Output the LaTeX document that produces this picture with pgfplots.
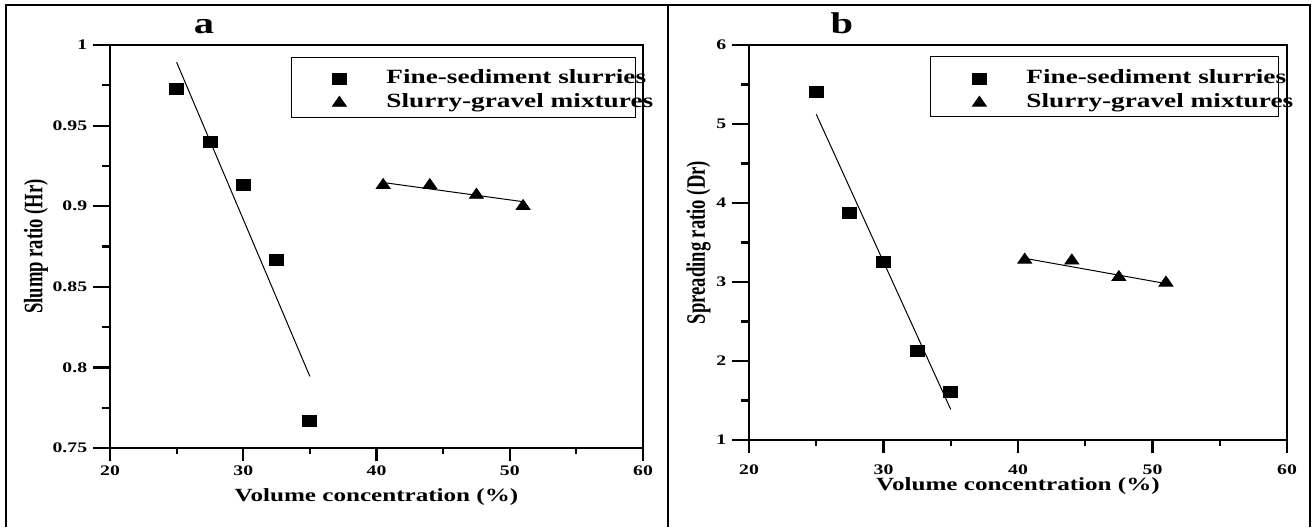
\documentclass[border=0pt]{standalone}
\usepackage{fontspec}
\setmainfont{Liberation Serif}[FakeStretch=1.35]
\newfontfamily\ylfont{Liberation Serif}[FakeStretch=0.7]
\usepackage{pgfplots}
\pgfplotsset{compat=1.18}

\pgfplotsset{
  panel/.style={
    scale only axis,
    xmin=20, xmax=60,
    xtick={20,30,40,50,60},
    minor x tick num=1,
    minor y tick num=1,
    tick pos=left,
    tick align=outside,
    major tick length=6.4pt,
    minor tick length=3.2pt,
    ytick style={/pgfplots/major tick length=8.5pt, /pgfplots/minor tick length=4.2pt},
    axis line style={line width=1.3pt},
    tick style={black, line width=1.1pt},
    tick label style={font=\bfseries\fontsize{7.3}{8}\selectfont},
    /pgf/number format/assume math mode=true,
    xlabel style={font=\bfseries\fontsize{9.3}{11}\selectfont, anchor=center},
    ylabel style={font=\ylfont\bfseries\fontsize{13.3}{14}\selectfont, anchor=center},
    legend cell align=left,
    legend style={draw=none, fill=none, inner sep=0pt, row sep=3pt, column sep=0pt,
      anchor=north west, font=\bfseries\fontsize{10.1}{11}\selectfont,
      nodes={inner sep=0pt, text height=7pt, text depth=2pt}},
    legend image code/.code={\path[draw=none] (0pt,0pt) -- (23.5pt,0pt); \draw[##1] plot coordinates {(0pt,0pt)};},
  },
  sq/.style={only marks, mark=square*, black, mark size=2.75pt, mark options={xscale=1.27}},
  tri/.style={only marks, mark=triangle*, black, mark size=3.33pt, mark options={xscale=1.21}},
  fit/.style={black, line width=0.5pt, forget plot},
}

\begin{document}
\begin{tikzpicture}
\path[use as bounding box] (0,0) rectangle (656pt,263.5pt);
\draw[line width=0.85pt] (3pt,0pt) -- (3pt,261pt) -- (655pt,261pt) -- (655pt,0pt);
\draw[line width=0.85pt] (334pt,0pt) -- (334pt,261pt);

\node[anchor=base, font=\bfseries\fontsize{15}{16}\selectfont] at (102pt,246.75pt) {a};
\node[anchor=base, font=\bfseries\fontsize{15}{16}\selectfont] at (421pt,246.75pt) {b};

% panel a
\begin{axis}[panel,
  at={(55pt,39.5pt)}, anchor=south west,
  width=266.5pt, height=201.5pt,
  ymin=0.75, ymax=1,
  ytick={0.75,0.8,0.85,0.9,0.95,1},
  xticklabel shift=-1pt,
  yticklabel shift=1.5pt,
  xlabel={Volume concentration (\%)},
  ylabel={Slump ratio (Hr)},
  xlabel style={at={(axis description cs:0.5,-0.1216)}},
  ylabel style={at={(axis description cs:-0.1388,0.5)}},
  legend style={at={(rel axis cs:0.4165,0.939)}},
]
\addplot[sq] coordinates {(25,0.973) (27.5,0.940) (30,0.913) (32.5,0.867) (35,0.767)};
\addlegendentry{Fine-sediment slurries}
\addplot[tri] coordinates {(40.5,0.913) (44,0.913) (47.5,0.907) (51,0.900)};
\addlegendentry{Slurry-gravel mixtures}
\addplot[fit] coordinates {(25,0.9893) (35,0.7944)};
\addplot[fit] coordinates {(40.5,0.9147) (51,0.9028)};
\draw[line width=0.5pt] (rel axis cs:0.3396,0.970) rectangle (rel axis cs:0.986,0.819);
\end{axis}

% panel b
\begin{axis}[panel,
  at={(374.5pt,43.5pt)}, anchor=south west,
  width=269pt, height=197.5pt,
  ymin=1, ymax=6,
  ytick={1,2,3,4,5,6},
  xticklabel shift=2.5pt,
  yticklabel shift=1.5pt,
  xlabel={Volume concentration (\%)},
  ylabel={Spreading ratio (Dr)},
  xlabel style={at={(axis description cs:0.5,-0.1165)}},
  ylabel style={at={(axis description cs:-0.0939,0.5)}},
  legend style={at={(rel axis cs:0.4145,0.938)}},
]
\addplot[sq] coordinates {(25,5.41) (27.5,3.88) (30,3.26) (32.5,2.13) (35,1.61)};
\addlegendentry{Fine-sediment slurries}
\addplot[tri] coordinates {(40.5,3.28) (44,3.27) (47.5,3.06) (51,2.99)};
\addlegendentry{Slurry-gravel mixtures}
\addplot[fit] coordinates {(25,5.123) (35,1.387)};
\addplot[fit] coordinates {(40.5,3.30) (51,2.98)};
\draw[line width=0.5pt] (rel axis cs:0.338,0.971) rectangle (rel axis cs:0.984,0.818);
\end{axis}
\end{tikzpicture}
\end{document}
